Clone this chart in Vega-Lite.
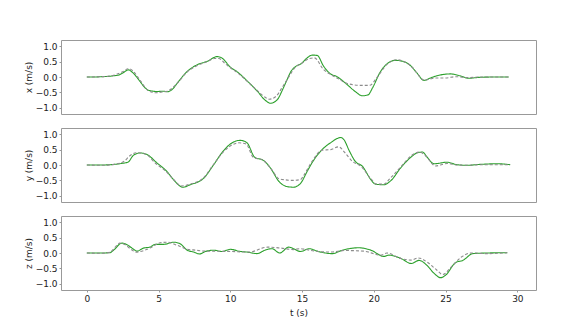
{
  "$schema": "https://vega.github.io/schema/vega-lite/v6.json",
  "padding": {"left": 23, "top": 39, "right": 5, "bottom": 5},
  "config": {
    "view": {"stroke": "#999999", "strokeWidth": 1},
    "axis": {
      "domain": false, "grid": false,
      "labelFont": "DejaVu Sans", "labelFontSize": 9, "labelColor": "#222222",
      "titleFont": "DejaVu Sans", "titleFontSize": 9, "titleFontWeight": "normal", "titleColor": "#222222",
      "tickColor": "#999999", "tickSize": 2, "labelPadding": 2
    },
    "concat": {"spacing": 12}
  },
  "datasets": {
    "d": [
      {"c":"x","k":"est","t":0,"v":0},{"c":"x","k":"est","t":0.5,"v":0},{"c":"x","k":"est","t":1.0,"v":0.01},{"c":"x","k":"est","t":1.5,"v":0.02},{"c":"x","k":"est","t":1.86,"v":0.04},{"c":"x","k":"est","t":2.2,"v":0.06},{"c":"x","k":"est","t":2.5,"v":0.13},{"c":"x","k":"est","t":2.9,"v":0.23},{"c":"x","k":"est","t":3.2,"v":0.14},{"c":"x","k":"est","t":3.7,"v":-0.14},{"c":"x","k":"est","t":4.0,"v":-0.32},{"c":"x","k":"est","t":4.3,"v":-0.43},{"c":"x","k":"est","t":4.9,"v":-0.47},{"c":"x","k":"est","t":5.35,"v":-0.46},{"c":"x","k":"est","t":5.6,"v":-0.48},{"c":"x","k":"est","t":6.0,"v":-0.38},{"c":"x","k":"est","t":6.3,"v":-0.2},{"c":"x","k":"est","t":7.0,"v":0.18},{"c":"x","k":"est","t":7.7,"v":0.4},{"c":"x","k":"est","t":8.4,"v":0.51},{"c":"x","k":"est","t":9.07,"v":0.66},{"c":"x","k":"est","t":9.4,"v":0.62},{"c":"x","k":"est","t":10.0,"v":0.32},{"c":"x","k":"est","t":10.5,"v":0.16},{"c":"x","k":"est","t":11.2,"v":-0.14},{"c":"x","k":"est","t":11.9,"v":-0.47},{"c":"x","k":"est","t":12.4,"v":-0.74},{"c":"x","k":"est","t":12.8,"v":-0.85},{"c":"x","k":"est","t":13.3,"v":-0.72},{"c":"x","k":"est","t":13.6,"v":-0.45},{"c":"x","k":"est","t":13.95,"v":-0.09},{"c":"x","k":"est","t":14.2,"v":0.16},{"c":"x","k":"est","t":14.65,"v":0.37},{"c":"x","k":"est","t":14.9,"v":0.42},{"c":"x","k":"est","t":15.35,"v":0.62},{"c":"x","k":"est","t":15.7,"v":0.71},{"c":"x","k":"est","t":16.05,"v":0.7},{"c":"x","k":"est","t":16.5,"v":0.35},{"c":"x","k":"est","t":16.98,"v":0.1},{"c":"x","k":"est","t":17.4,"v":0.02},{"c":"x","k":"est","t":18.1,"v":-0.23},{"c":"x","k":"est","t":18.7,"v":-0.47},{"c":"x","k":"est","t":19.2,"v":-0.61},{"c":"x","k":"est","t":19.6,"v":-0.58},{"c":"x","k":"est","t":19.9,"v":-0.36},{"c":"x","k":"est","t":20.47,"v":0.18},{"c":"x","k":"est","t":20.9,"v":0.42},{"c":"x","k":"est","t":21.5,"v":0.54},{"c":"x","k":"est","t":22.0,"v":0.51},{"c":"x","k":"est","t":22.6,"v":0.35},{"c":"x","k":"est","t":23.0,"v":0.13},{"c":"x","k":"est","t":23.5,"v":-0.11},{"c":"x","k":"est","t":23.95,"v":-0.03},{"c":"x","k":"est","t":24.4,"v":0.04},{"c":"x","k":"est","t":25.35,"v":0.1},{"c":"x","k":"est","t":26.0,"v":0.04},{"c":"x","k":"est","t":26.6,"v":-0.04},{"c":"x","k":"est","t":27.4,"v":-0.01},{"c":"x","k":"est","t":28.6,"v":0},{"c":"x","k":"est","t":29.4,"v":0},
      {"c":"x","k":"ref","t":0,"v":0},{"c":"x","k":"ref","t":1.0,"v":0.01},{"c":"x","k":"ref","t":1.8,"v":0.05},{"c":"x","k":"ref","t":2.5,"v":0.17},{"c":"x","k":"ref","t":2.9,"v":0.27},{"c":"x","k":"ref","t":3.2,"v":0.2},{"c":"x","k":"ref","t":3.7,"v":-0.1},{"c":"x","k":"ref","t":4.3,"v":-0.45},{"c":"x","k":"ref","t":4.8,"v":-0.51},{"c":"x","k":"ref","t":5.3,"v":-0.48},{"c":"x","k":"ref","t":5.6,"v":-0.46},{"c":"x","k":"ref","t":6.3,"v":-0.2},{"c":"x","k":"ref","t":7.0,"v":0.17},{"c":"x","k":"ref","t":7.7,"v":0.37},{"c":"x","k":"ref","t":8.4,"v":0.5},{"c":"x","k":"ref","t":8.9,"v":0.6},{"c":"x","k":"ref","t":9.2,"v":0.6},{"c":"x","k":"ref","t":9.6,"v":0.45},{"c":"x","k":"ref","t":10.0,"v":0.3},{"c":"x","k":"ref","t":10.5,"v":0.14},{"c":"x","k":"ref","t":11.2,"v":-0.15},{"c":"x","k":"ref","t":11.9,"v":-0.45},{"c":"x","k":"ref","t":12.4,"v":-0.65},{"c":"x","k":"ref","t":12.7,"v":-0.72},{"c":"x","k":"ref","t":13.2,"v":-0.62},{"c":"x","k":"ref","t":13.6,"v":-0.35},{"c":"x","k":"ref","t":14.0,"v":-0.05},{"c":"x","k":"ref","t":14.5,"v":0.3},{"c":"x","k":"ref","t":15.0,"v":0.45},{"c":"x","k":"ref","t":15.5,"v":0.6},{"c":"x","k":"ref","t":15.85,"v":0.62},{"c":"x","k":"ref","t":16.5,"v":0.24},{"c":"x","k":"ref","t":17.0,"v":0.08},{"c":"x","k":"ref","t":17.5,"v":-0.05},{"c":"x","k":"ref","t":18.1,"v":-0.2},{"c":"x","k":"ref","t":19.0,"v":-0.27},{"c":"x","k":"ref","t":19.7,"v":-0.27},{"c":"x","k":"ref","t":20.2,"v":-0.03},{"c":"x","k":"ref","t":20.9,"v":0.4},{"c":"x","k":"ref","t":21.6,"v":0.56},{"c":"x","k":"ref","t":22.0,"v":0.52},{"c":"x","k":"ref","t":22.6,"v":0.35},{"c":"x","k":"ref","t":23.0,"v":0.13},{"c":"x","k":"ref","t":23.5,"v":-0.1},{"c":"x","k":"ref","t":24.4,"v":-0.03},{"c":"x","k":"ref","t":25.0,"v":-0.03},{"c":"x","k":"ref","t":25.7,"v":0.01},{"c":"x","k":"ref","t":26.6,"v":-0.02},{"c":"x","k":"ref","t":27.4,"v":0},{"c":"x","k":"ref","t":29.4,"v":0},
      {"c":"y","k":"est","t":0,"v":0},{"c":"y","k":"est","t":1.0,"v":0},{"c":"y","k":"est","t":1.9,"v":0.02},{"c":"y","k":"est","t":2.4,"v":0.05},{"c":"y","k":"est","t":2.86,"v":0.09},{"c":"y","k":"est","t":3.26,"v":0.32},{"c":"y","k":"est","t":3.72,"v":0.39},{"c":"y","k":"est","t":4.19,"v":0.34},{"c":"y","k":"est","t":4.88,"v":0.07},{"c":"y","k":"est","t":5.58,"v":-0.21},{"c":"y","k":"est","t":6.05,"v":-0.48},{"c":"y","k":"est","t":6.7,"v":-0.72},{"c":"y","k":"est","t":7.2,"v":-0.64},{"c":"y","k":"est","t":8.14,"v":-0.43},{"c":"y","k":"est","t":8.84,"v":0.01},{"c":"y","k":"est","t":9.5,"v":0.45},{"c":"y","k":"est","t":10.2,"v":0.74},{"c":"y","k":"est","t":10.7,"v":0.8},{"c":"y","k":"est","t":11.16,"v":0.72},{"c":"y","k":"est","t":11.7,"v":0.25},{"c":"y","k":"est","t":12.3,"v":0.15},{"c":"y","k":"est","t":12.8,"v":-0.1},{"c":"y","k":"est","t":13.4,"v":-0.54},{"c":"y","k":"est","t":13.95,"v":-0.7},{"c":"y","k":"est","t":14.4,"v":-0.72},{"c":"y","k":"est","t":14.9,"v":-0.59},{"c":"y","k":"est","t":15.35,"v":-0.21},{"c":"y","k":"est","t":15.8,"v":0.15},{"c":"y","k":"est","t":16.4,"v":0.5},{"c":"y","k":"est","t":16.98,"v":0.72},{"c":"y","k":"est","t":17.7,"v":0.89},{"c":"y","k":"est","t":17.9,"v":0.83},{"c":"y","k":"est","t":18.3,"v":0.45},{"c":"y","k":"est","t":18.7,"v":0.12},{"c":"y","k":"est","t":19.2,"v":-0.04},{"c":"y","k":"est","t":19.8,"v":-0.48},{"c":"y","k":"est","t":20.1,"v":-0.62},{"c":"y","k":"est","t":20.7,"v":-0.64},{"c":"y","k":"est","t":21.2,"v":-0.5},{"c":"y","k":"est","t":21.86,"v":-0.1},{"c":"y","k":"est","t":22.6,"v":0.26},{"c":"y","k":"est","t":23.0,"v":0.39},{"c":"y","k":"est","t":23.4,"v":0.42},{"c":"y","k":"est","t":23.7,"v":0.26},{"c":"y","k":"est","t":24.2,"v":0.04},{"c":"y","k":"est","t":25.1,"v":0.09},{"c":"y","k":"est","t":25.8,"v":0.01},{"c":"y","k":"est","t":26.5,"v":-0.01},{"c":"y","k":"est","t":27.4,"v":0.02},{"c":"y","k":"est","t":28.6,"v":0.04},{"c":"y","k":"est","t":29.5,"v":0.01},
      {"c":"y","k":"ref","t":0,"v":0},{"c":"y","k":"ref","t":1.0,"v":-0.01},{"c":"y","k":"ref","t":1.9,"v":0.02},{"c":"y","k":"ref","t":2.6,"v":0.12},{"c":"y","k":"ref","t":3.0,"v":0.3},{"c":"y","k":"ref","t":3.5,"v":0.4},{"c":"y","k":"ref","t":4.1,"v":0.35},{"c":"y","k":"ref","t":4.8,"v":0.05},{"c":"y","k":"ref","t":5.5,"v":-0.2},{"c":"y","k":"ref","t":6.0,"v":-0.45},{"c":"y","k":"ref","t":6.6,"v":-0.68},{"c":"y","k":"ref","t":7.2,"v":-0.62},{"c":"y","k":"ref","t":8.1,"v":-0.43},{"c":"y","k":"ref","t":8.8,"v":0.0},{"c":"y","k":"ref","t":9.5,"v":0.42},{"c":"y","k":"ref","t":10.2,"v":0.67},{"c":"y","k":"ref","t":10.6,"v":0.72},{"c":"y","k":"ref","t":11.1,"v":0.68},{"c":"y","k":"ref","t":11.6,"v":0.25},{"c":"y","k":"ref","t":12.3,"v":0.15},{"c":"y","k":"ref","t":12.8,"v":-0.1},{"c":"y","k":"ref","t":13.4,"v":-0.45},{"c":"y","k":"ref","t":13.8,"v":-0.48},{"c":"y","k":"ref","t":14.3,"v":-0.5},{"c":"y","k":"ref","t":14.9,"v":-0.47},{"c":"y","k":"ref","t":15.1,"v":-0.35},{"c":"y","k":"ref","t":15.7,"v":0.12},{"c":"y","k":"ref","t":16.4,"v":0.48},{"c":"y","k":"ref","t":17.0,"v":0.5},{"c":"y","k":"ref","t":17.55,"v":0.59},{"c":"y","k":"ref","t":18.0,"v":0.39},{"c":"y","k":"ref","t":18.5,"v":0.12},{"c":"y","k":"ref","t":19.1,"v":-0.04},{"c":"y","k":"ref","t":19.8,"v":-0.45},{"c":"y","k":"ref","t":20.2,"v":-0.62},{"c":"y","k":"ref","t":20.7,"v":-0.62},{"c":"y","k":"ref","t":21.1,"v":-0.45},{"c":"y","k":"ref","t":21.9,"v":-0.05},{"c":"y","k":"ref","t":22.6,"v":0.3},{"c":"y","k":"ref","t":23.2,"v":0.42},{"c":"y","k":"ref","t":23.6,"v":0.3},{"c":"y","k":"ref","t":24.3,"v":-0.03},{"c":"y","k":"ref","t":25.1,"v":0.05},{"c":"y","k":"ref","t":25.8,"v":0.0},{"c":"y","k":"ref","t":26.5,"v":-0.01},{"c":"y","k":"ref","t":27.4,"v":0.01},{"c":"y","k":"ref","t":29.5,"v":0.01},
      {"c":"z","k":"est","t":0,"v":0},{"c":"z","k":"est","t":1.0,"v":0},{"c":"z","k":"est","t":1.6,"v":0.01},{"c":"z","k":"est","t":1.86,"v":0.09},{"c":"z","k":"est","t":2.44,"v":0.32},{"c":"z","k":"est","t":2.8,"v":0.27},{"c":"z","k":"est","t":3.26,"v":0.12},{"c":"z","k":"est","t":3.5,"v":0.06},{"c":"z","k":"est","t":3.95,"v":0.16},{"c":"z","k":"est","t":4.4,"v":0.19},{"c":"z","k":"est","t":4.77,"v":0.28},{"c":"z","k":"est","t":5.35,"v":0.28},{"c":"z","k":"est","t":6.05,"v":0.35},{"c":"z","k":"est","t":6.5,"v":0.3},{"c":"z","k":"est","t":7.0,"v":0.09},{"c":"z","k":"est","t":7.44,"v":0.03},{"c":"z","k":"est","t":7.86,"v":-0.03},{"c":"z","k":"est","t":8.26,"v":0.05},{"c":"z","k":"est","t":8.84,"v":0.09},{"c":"z","k":"est","t":9.42,"v":0.05},{"c":"z","k":"est","t":10.0,"v":0.12},{"c":"z","k":"est","t":10.7,"v":0.05},{"c":"z","k":"est","t":11.16,"v":0.03},{"c":"z","k":"est","t":11.86,"v":-0.02},{"c":"z","k":"est","t":12.4,"v":0.09},{"c":"z","k":"est","t":12.9,"v":0.14},{"c":"z","k":"est","t":13.44,"v":0.0},{"c":"z","k":"est","t":14.07,"v":0.19},{"c":"z","k":"est","t":14.9,"v":0.05},{"c":"z","k":"est","t":15.5,"v":0.14},{"c":"z","k":"est","t":16.05,"v":0.06},{"c":"z","k":"est","t":17.1,"v":-0.02},{"c":"z","k":"est","t":17.8,"v":0.09},{"c":"z","k":"est","t":18.95,"v":0.17},{"c":"z","k":"est","t":19.8,"v":0.09},{"c":"z","k":"est","t":20.7,"v":-0.11},{"c":"z","k":"est","t":21.05,"v":-0.07},{"c":"z","k":"est","t":21.9,"v":-0.18},{"c":"z","k":"est","t":22.6,"v":-0.34},{"c":"z","k":"est","t":23.15,"v":-0.24},{"c":"z","k":"est","t":23.7,"v":-0.4},{"c":"z","k":"est","t":24.2,"v":-0.66},{"c":"z","k":"est","t":24.65,"v":-0.8},{"c":"z","k":"est","t":25.0,"v":-0.72},{"c":"z","k":"est","t":25.7,"v":-0.31},{"c":"z","k":"est","t":26.2,"v":-0.24},{"c":"z","k":"est","t":26.9,"v":-0.02},{"c":"z","k":"est","t":27.9,"v":0},{"c":"z","k":"est","t":29.3,"v":0.01},
      {"c":"z","k":"ref","t":0,"v":0},{"c":"z","k":"ref","t":1.0,"v":-0.01},{"c":"z","k":"ref","t":1.6,"v":0.02},{"c":"z","k":"ref","t":2.0,"v":0.2},{"c":"z","k":"ref","t":2.3,"v":0.32},{"c":"z","k":"ref","t":2.6,"v":0.28},{"c":"z","k":"ref","t":3.2,"v":0.08},{"c":"z","k":"ref","t":3.4,"v":0.03},{"c":"z","k":"ref","t":4.4,"v":0.16},{"c":"z","k":"ref","t":5.1,"v":0.33},{"c":"z","k":"ref","t":5.6,"v":0.35},{"c":"z","k":"ref","t":6.3,"v":0.25},{"c":"z","k":"ref","t":7.0,"v":0.12},{"c":"z","k":"ref","t":7.4,"v":0.1},{"c":"z","k":"ref","t":8.3,"v":0.06},{"c":"z","k":"ref","t":10.0,"v":0.05},{"c":"z","k":"ref","t":11.3,"v":0.03},{"c":"z","k":"ref","t":12.6,"v":0.19},{"c":"z","k":"ref","t":13.5,"v":0.16},{"c":"z","k":"ref","t":14.4,"v":0.11},{"c":"z","k":"ref","t":14.8,"v":0.14},{"c":"z","k":"ref","t":15.9,"v":0.06},{"c":"z","k":"ref","t":17.0,"v":0.03},{"c":"z","k":"ref","t":18.0,"v":0.08},{"c":"z","k":"ref","t":19.3,"v":0.06},{"c":"z","k":"ref","t":20.5,"v":-0.07},{"c":"z","k":"ref","t":20.9,"v":0.0},{"c":"z","k":"ref","t":21.9,"v":-0.18},{"c":"z","k":"ref","t":22.6,"v":-0.23},{"c":"z","k":"ref","t":23.1,"v":-0.16},{"c":"z","k":"ref","t":23.7,"v":-0.29},{"c":"z","k":"ref","t":24.4,"v":-0.56},{"c":"z","k":"ref","t":24.8,"v":-0.7},{"c":"z","k":"ref","t":25.4,"v":-0.45},{"c":"z","k":"ref","t":26.1,"v":-0.13},{"c":"z","k":"ref","t":26.8,"v":0},{"c":"z","k":"ref","t":27.9,"v":-0.02},{"c":"z","k":"ref","t":29.3,"v":0.01}
    ]
  },
  "data": {"name": "d"},
  "vconcat": [
    {
      "width": 475, "height": 74,
      "transform": [{"filter": "datum.c === 'x'"}],
      "mark": {"type": "line", "interpolate": "monotone", "strokeWidth": 1.1},
      "encoding": {
        "x": {"field": "t", "type": "quantitative", "scale": {"domain": [-1.8, 31.3], "nice": false, "zero": false}, "axis": {"labels": false, "ticks": false, "title": null}},
        "y": {"field": "v", "type": "quantitative", "scale": {"domain": [-1.2, 1.2], "nice": false}, "axis": {"title": "x (m/s)", "values": [-1,-0.5,0,0.5,1], "labelExpr": "replace(format(datum.value, '.1f'), '-', '\u2212')", "titlePadding": 2}},
        "color": {"field": "k", "type": "nominal", "scale": {"domain": ["ref", "est"], "range": ["#8c8c8c", "#2ca02c"]}, "legend": null},
        "strokeDash": {"field": "k", "type": "nominal", "scale": {"domain": ["ref", "est"], "range": [[3, 2], [1, 0]]}, "legend": null}
      }
    },
    {
      "width": 475, "height": 74,
      "transform": [{"filter": "datum.c === 'y'"}],
      "mark": {"type": "line", "interpolate": "monotone", "strokeWidth": 1.1},
      "encoding": {
        "x": {"field": "t", "type": "quantitative", "scale": {"domain": [-1.8, 31.3], "nice": false, "zero": false}, "axis": {"labels": false, "ticks": false, "title": null}},
        "y": {"field": "v", "type": "quantitative", "scale": {"domain": [-1.2, 1.2], "nice": false}, "axis": {"title": "y (m/s)", "values": [-1,-0.5,0,0.5,1], "labelExpr": "replace(format(datum.value, '.1f'), '-', '\u2212')", "titlePadding": 2}},
        "color": {"field": "k", "type": "nominal", "scale": {"domain": ["ref", "est"], "range": ["#8c8c8c", "#2ca02c"]}, "legend": null},
        "strokeDash": {"field": "k", "type": "nominal", "scale": {"domain": ["ref", "est"], "range": [[3, 2], [1, 0]]}, "legend": null}
      }
    },
    {
      "width": 475, "height": 74,
      "transform": [{"filter": "datum.c === 'z'"}],
      "mark": {"type": "line", "interpolate": "monotone", "strokeWidth": 1.1},
      "encoding": {
        "x": {"field": "t", "type": "quantitative", "scale": {"domain": [-1.8, 31.3], "nice": false, "zero": false}, "axis": {"title": "t (s)", "values": [0,5,10,15,20,25,30], "titlePadding": 5}},
        "y": {"field": "v", "type": "quantitative", "scale": {"domain": [-1.2, 1.2], "nice": false}, "axis": {"title": "z (m/s)", "values": [-1,-0.5,0,0.5,1], "labelExpr": "replace(format(datum.value, '.1f'), '-', '\u2212')", "titlePadding": 2}},
        "color": {"field": "k", "type": "nominal", "scale": {"domain": ["ref", "est"], "range": ["#8c8c8c", "#2ca02c"]}, "legend": null},
        "strokeDash": {"field": "k", "type": "nominal", "scale": {"domain": ["ref", "est"], "range": [[3, 2], [1, 0]]}, "legend": null}
      }
    }
  ]
}
